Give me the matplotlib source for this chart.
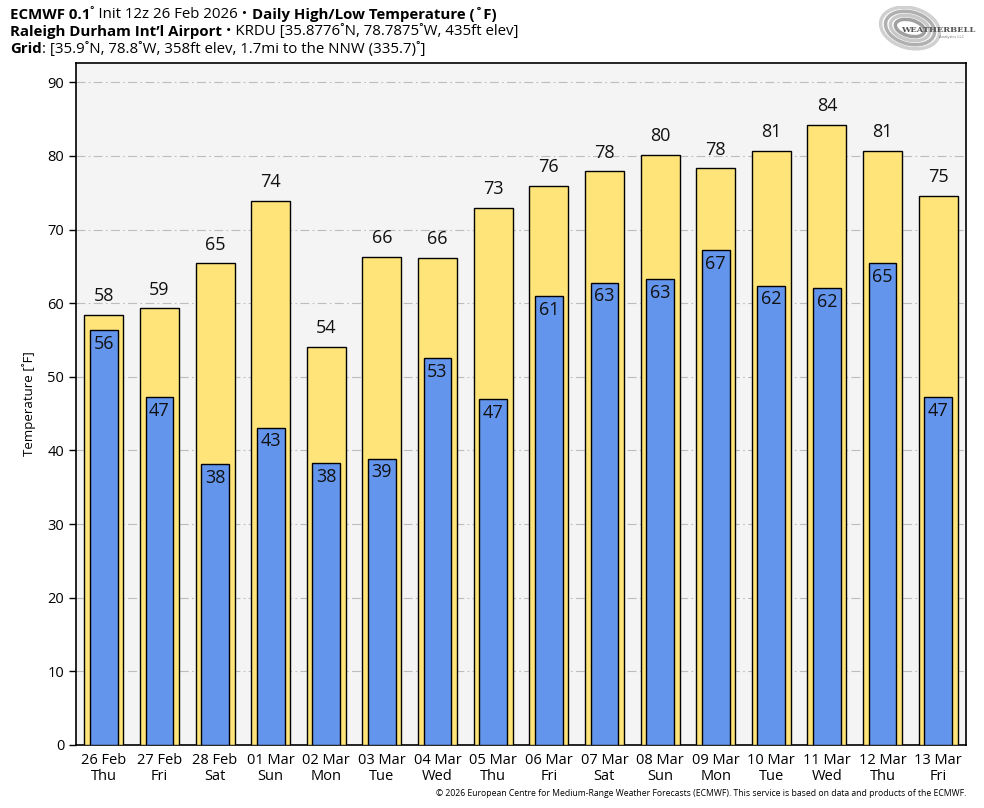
import matplotlib
matplotlib.use("Agg")
import matplotlib.pyplot as plt
from matplotlib.patches import Ellipse

plt.rcParams['font.family'] = ['Open Sans', 'DejaVu Sans']

dates = ["26 Feb", "27 Feb", "28 Feb", "01 Mar", "02 Mar", "03 Mar", "04 Mar", "05 Mar",
         "06 Mar", "07 Mar", "08 Mar", "09 Mar", "10 Mar", "11 Mar", "12 Mar", "13 Mar"]
days = ["Thu", "Fri", "Sat", "Sun", "Mon", "Tue", "Wed", "Thu",
        "Fri", "Sat", "Sun", "Mon", "Tue", "Wed", "Thu", "Fri"]
highs = [58.4, 59.3, 65.4, 73.9, 54.1, 66.3, 66.2, 72.9,
         75.9, 77.9, 80.1, 78.3, 80.7, 84.2, 80.7, 74.6]
lows = [56.4, 47.3, 38.2, 43.1, 38.3, 38.9, 52.6, 47.0,
        61.0, 62.8, 63.3, 67.2, 62.4, 62.0, 65.4, 47.3]

fig = plt.figure(figsize=(9.84, 8.08), dpi=100)
ax = fig.add_axes([76/984, 63/808, 890/984, (745-63)/808])
ax.set_facecolor('#f4f4f4')

x = list(range(len(dates)))
ax.bar(x, highs, width=0.7, color='#ffe47a', edgecolor='black', linewidth=1.0, zorder=3)
ax.bar(x, lows, width=0.5, color='#6495ed', edgecolor='black', linewidth=1.0, zorder=4)

for xi, h, l in zip(x, highs, lows):
    ax.annotate(f"{round(h):d}", (xi, h), xytext=(0, 7), textcoords='offset points',
                ha='center', va='bottom', fontsize=13, color='#111111', zorder=5)
    ax.annotate(f"{round(l):d}", (xi, l), xytext=(0, -3.5), textcoords='offset points',
                ha='center', va='top', fontsize=13, color='#111111', zorder=5)

ax.set_xlim(-0.5, len(dates) - 0.5)
ax.set_ylim(0, max(highs) * 1.1)
ax.set_yticks(range(0, 91, 10))
ax.set_xticks(x)
ax.set_xticklabels([f"{d}\n{w}" for d, w in zip(dates, days)], fontsize=10.5, linespacing=1.1)
ax.tick_params(axis='x', length=0, pad=6)
ax.tick_params(axis='y', length=5, width=1, labelsize=10.5, direction='out')
ax.yaxis.grid(True, linestyle=(0, (8, 3, 1.5, 3)), color='#bdbdbd', linewidth=0.8, zorder=0)
ax.set_axisbelow(True)
for s in ax.spines.values():
    s.set_linewidth(1.2)
ax.set_ylabel("Temperature [\u02daF]", fontsize=9.5, labelpad=8)

renderer = fig.canvas.get_renderer()

def line(y, parts, size=10.8):
    xpos = 10
    for txt, bold in parts:
        t = fig.text(xpos/984, 1 - y/808, txt, fontsize=size,
                     fontweight='bold' if bold else 'normal', va='center')
        bb = t.get_window_extent(renderer=renderer)
        xpos += bb.width

line(15, [("ECMWF 0.1", True), ("\u02da Init 12z 26 Feb 2026 \u2022 ", False),
          ("Daily High/Low Temperature (\u02daF)", True)])
line(32, [("Raleigh Durham Int\u2019l Airport", True),
          (" \u2022 KRDU [35.8776\u02daN, 78.7875\u02daW, 435ft elev]", False)])
line(49, [("Grid", True), (": [35.9\u02daN, 78.8\u02daW, 358ft elev, 1.7mi to the NNW (335.7)\u02da]", False)])

# Logo
lax = fig.add_axes([876/984, 1 - 52/808, 92/984, 46/808])
lax.set_xlim(0, 92); lax.set_ylim(0, 46); lax.axis('off')
for w, hgt, c in [(60, 40, '#d0d0d0'), (50, 32, '#b0b0b0'), (40, 24, '#c8c8c8'), (30, 16, '#a0a0a0')]:
    lax.add_patch(Ellipse((34, 24), w, hgt, angle=-15, fill=False, edgecolor=c, linewidth=2.5))
lax.text(62, 22, "WEATHERBELL", fontsize=6, ha='center', va='center', color='#555555',
         family='DejaVu Serif', fontweight='bold')
lax.text(76, 15, "Analytics LLC", fontsize=3, ha='center', va='center', color='#777777')

fig.text(966/984, 1 - 794/808, "\u00a9 2026 European Centre for Medium-Range Weather Forecasts (ECMWF). "
         "This service is based on data and products of the ECMWF.",
         fontsize=6.2, ha='right', va='center')

fig.savefig("out.png", dpi=100)
